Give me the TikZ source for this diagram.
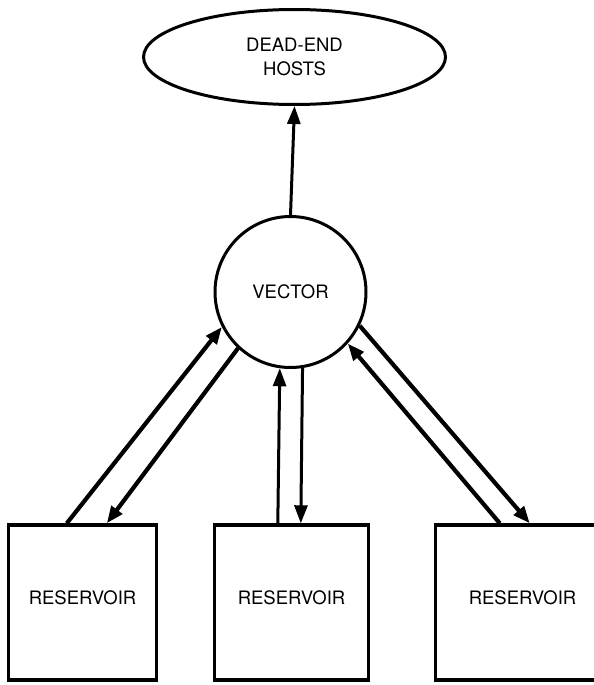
\documentclass[tikz,border=0pt]{standalone}
\usepackage{fontspec}
\setmainfont{TeX Gyre Heros}
\usetikzlibrary{arrows.meta,shapes.geometric,calc}

\begin{document}
\begin{tikzpicture}[x=1pt,y=-1pt,
  lbl/.style={font=\fontsize{18.5}{24}\selectfont, align=center},
  hostnode/.style={ellipse, draw, line width=3pt, inner sep=0pt,
    minimum width=302, minimum height=95, lbl},
  vectornode/.style={circle, draw, line width=3pt, inner sep=0pt,
    minimum size=151, lbl},
  resbox/.style={rectangle, draw, line width=3.4pt, inner sep=0pt,
    minimum height=155, text depth=10pt, lbl},
  flow/.style={line width=4.2pt, -{Triangle[length=17pt,width=13pt]}},
  thinflow/.style={line width=3pt, -{Triangle[length=18pt,width=13pt]}}
]
\clip (0,0) rectangle (594,685);

% nodes
\node[hostnode]   (hosts)  at (294.5,57)  {DEAD-END\\HOSTS};
\node[vectornode] (vector) at (290.5,292) {VECTOR};
\node[resbox, minimum width=148] (res1) at (82.5,602.5)  {RESERVOIR};
\node[resbox, minimum width=154] (res2) at (291.5,602.5) {RESERVOIR};
\node[resbox, minimum width=174] (res3) at (522.5,602.5) {RESERVOIR};

% vector to dead-end hosts
\draw[thinflow] (vector.north) -- (hosts.south);

% left reservoir
\draw[flow] ($(res1.north west)+(60,0)$) -- (vector.207);
\draw[flow] (vector.227) -- ($(res1.north west)+(100,0)$);

% middle reservoir
\draw[thinflow] ($(res2.north west)+(65,0)$) -- (vector.262);
\draw[thinflow] (vector.279) -- ($(res2.north west)+(88,0)$);

% right reservoir
\draw[flow] ($(res3.north west)+(66,0)$) -- (vector.318);
\draw[flow] (vector.334) -- ($(res3.north west)+(96,0)$);
\end{tikzpicture}
\end{document}
